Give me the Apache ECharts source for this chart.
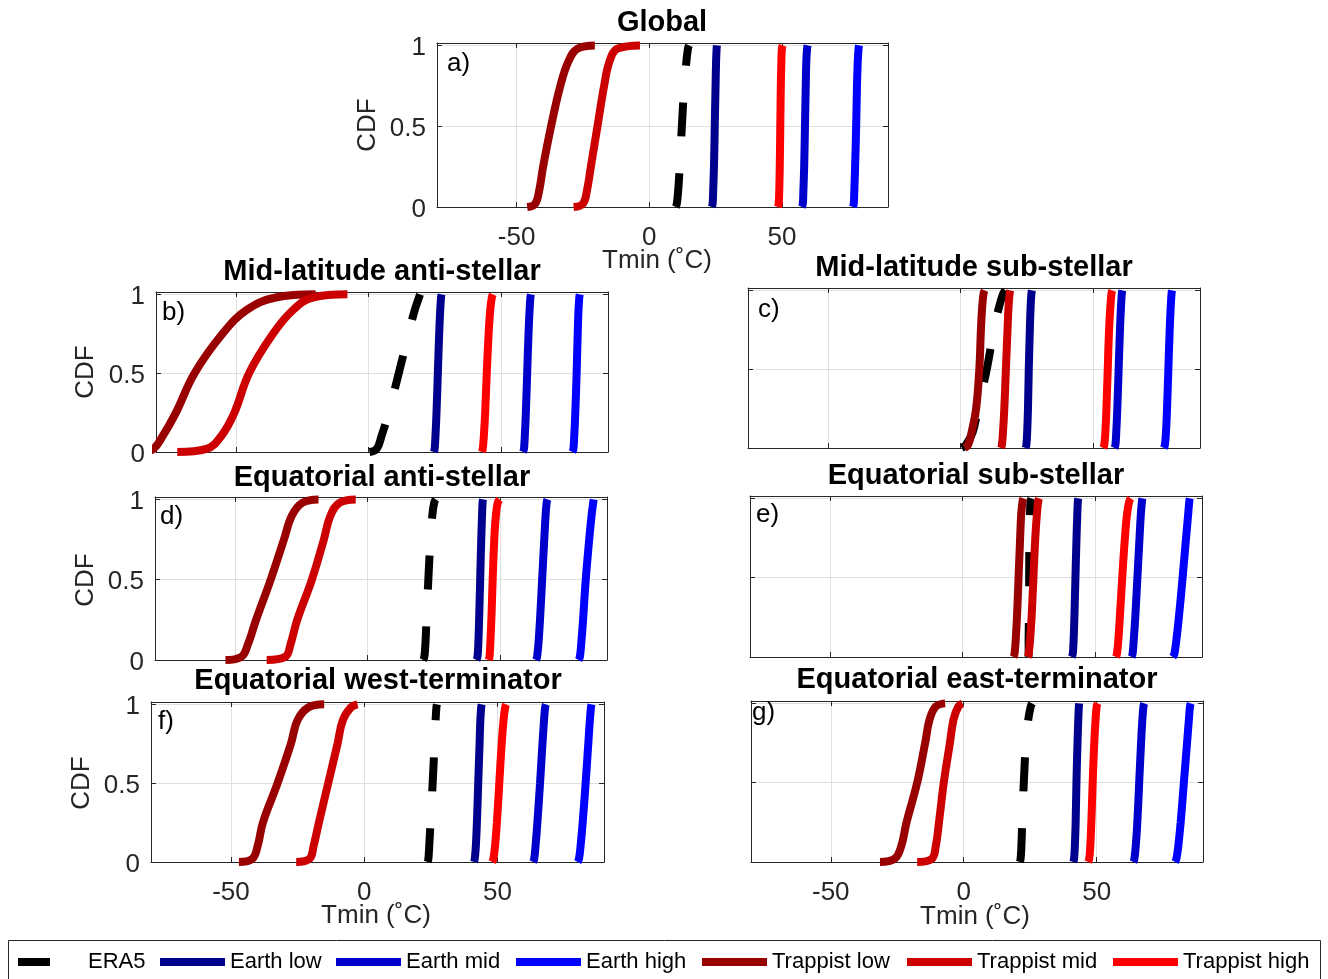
<!DOCTYPE html>
<html>
<head>
<meta charset="utf-8">
<title>Tmin CDF by region</title>
<script src="https://cdn.jsdelivr.net/npm/echarts@6.0.0/dist/echarts.min.js"></script>
<style>
  html, body { margin: 0; padding: 0; background: #ffffff; }
  #chart { width: 1328px; height: 979px; }
</style>
</head>
<body>
<div id="chart"></div>
<script>
// ---------------------------------------------------------------------------
// Data: Tmin (°C) at fixed CDF levels, one row per series, one array per region
// ---------------------------------------------------------------------------
const seriesNames = ['ERA5', 'Earth low', 'Earth mid', 'Earth high', 'Trappist low', 'Trappist mid', 'Trappist high'];
const cdfLevels = [0, 0.02, 0.1, 0.25, 0.5, 0.75, 0.9, 0.98, 1];
const xTickValues = [-50, 0, 50];
const yTickValues = [0, 0.5, 1];
const panelTitles = ['Global', 'Mid-latitude anti-stellar', 'Mid-latitude sub-stellar', 'Equatorial anti-stellar',
  'Equatorial sub-stellar', 'Equatorial west-terminator', 'Equatorial east-terminator'];
const panelLetters = ['a)', 'b)', 'c)', 'd)', 'e)', 'f)', 'g)'];
const xAxisTitle = 'Tmin (˚C)';
const yAxisTitle = 'CDF';

const globalTmin = [
  [10, 10.4, 10.9, 11.5, 12.3, 13.2, 14, 14.6, 15],
  [23.6, 23.9, 24.1, 24.4, 24.7, 25, 25.2, 25.4, 25.5],
  [57.5, 57.9, 58.1, 58.4, 58.7, 59, 59.2, 59.5, 59.7],
  [76.8, 77.1, 77.3, 77.6, 78, 78.3, 78.6, 78.9, 79.1],
  [-46, -43, -41.5, -40, -37, -33.5, -30.5, -27, -20.5],
  [-28.5, -25, -23.5, -22, -19.5, -17, -15, -12, -3.5],
  [48.5, 48.8, 49, 49.2, 49.4, 49.6, 49.8, 50, 50.3]
];
const midLatAntiTmin = [
  [0.3, 3, 4.8, 7.5, 11.3, 15, 17.3, 18.9, 19.3],
  [24.5, 24.8, 25.1, 25.5, 26, 26.5, 26.9, 27.2, 27.4],
  [58, 58.4, 58.7, 59.1, 59.6, 60.1, 60.5, 60.8, 61],
  [76.6, 77, 77.3, 77.7, 78.2, 78.6, 78.9, 79.2, 79.4],
  [-85, -81, -77.5, -72.5, -65.5, -55, -46, -35, -20],
  [-72, -61, -55.5, -50.5, -45, -36, -28.5, -21, -8],
  [42.6, 42.9, 43.3, 43.8, 44.4, 45.1, 45.7, 46.3, 46.7]
];
const midLatSubTmin = [
  [0.4, 2, 4.5, 6.5, 9.8, 12.5, 14.5, 16, 16.8],
  [24.4, 24.7, 25, 25.3, 25.6, 26, 26.3, 26.6, 26.8],
  [57.8, 58.2, 58.5, 58.9, 59.4, 59.9, 60.3, 60.6, 60.8],
  [76.4, 76.8, 77.2, 77.6, 78.1, 78.6, 79, 79.3, 79.5],
  [1.5, 2.8, 4.1, 5.8, 7, 7.6, 8.1, 8.6, 9],
  [15.2, 15.5, 15.9, 16.4, 17, 17.6, 18, 18.4, 18.6],
  [53.6, 54, 54.4, 54.8, 55.3, 55.8, 56.3, 56.7, 57]
];
const eqAntiTmin = [
  [20.8, 21.3, 21.7, 22.1, 22.8, 23.6, 24.3, 25, 25.6],
  [40.9, 41.3, 41.6, 41.9, 42.3, 42.7, 43, 43.2, 43.4],
  [63.3, 63.7, 64.2, 64.8, 65.6, 66.4, 66.9, 67.3, 67.6],
  [79.3, 79.8, 80.3, 81, 82, 83.3, 84.2, 84.8, 85],
  [-53.5, -47.5, -45, -42, -36.5, -31.5, -28.5, -24.5, -18.5],
  [-38, -31, -29, -26.5, -21, -16.5, -14, -10.5, -4.5],
  [45.5, 45.8, 46.1, 46.5, 47, 47.6, 48.2, 48.9, 49.6]
];
const eqSubTmin = [
  [24.7, 24.8, 24.8, 24.9, 25, 25.1, 25.3, 25.5, 25.8],
  [41, 41.4, 41.7, 42, 42.4, 42.8, 43.1, 43.3, 43.5],
  [63.5, 63.9, 64.3, 64.9, 65.7, 66.5, 67, 67.4, 67.6],
  [79, 79.6, 80.3, 81.3, 82.7, 84, 84.8, 85.2, 85.4],
  [19.1, 19.5, 19.9, 20.4, 21, 21.6, 22, 22.5, 22.8],
  [24.4, 24.8, 25.3, 25.9, 26.6, 27.3, 27.9, 28.4, 28.7],
  [57.6, 58, 58.5, 59.1, 60, 61, 61.8, 62.6, 63.2]
];
const eqWestTmin = [
  [23.8, 24.1, 24.4, 24.9, 25.7, 26.4, 26.8, 27.1, 27.3],
  [41.2, 41.5, 41.9, 42.3, 42.8, 43.3, 43.6, 43.9, 44.1],
  [63.4, 63.8, 64.3, 65, 66, 66.9, 67.5, 67.9, 68.2],
  [80.1, 80.6, 81.2, 82, 83.1, 84.1, 84.7, 85.1, 85.3],
  [-47, -42, -40, -38, -32.5, -27.5, -25, -21, -15],
  [-25.5, -20.5, -19, -17, -13.5, -10, -8, -5, -2.5],
  [48, 48.5, 49.1, 49.8, 50.7, 51.6, 52.3, 52.9, 53.3]
];
const eqEastTmin = [
  [21.1, 21.4, 21.7, 22, 22.6, 23.4, 24.3, 25.2, 25.7],
  [41.2, 41.5, 41.8, 42.1, 42.4, 42.8, 43.1, 43.3, 43.4],
  [63.8, 64.2, 64.7, 65.3, 66, 66.7, 67.2, 67.6, 67.9],
  [79.5, 80, 80.7, 81.6, 82.8, 84, 84.7, 85.1, 85.4],
  [-31.5, -26, -23.5, -21.5, -17.5, -14.5, -12.8, -10.5, -7],
  [-17.5, -12, -10.5, -9.3, -7.5, -5.2, -3.8, -2, -0.5],
  [46.8, 47.2, 47.6, 48, 48.5, 49.1, 49.6, 50, 50.4]
];
const panelData = [globalTmin, midLatAntiTmin, midLatSubTmin, eqAntiTmin, eqSubTmin, eqWestTmin, eqEastTmin];

// ---------------------------------------------------------------------------
// Styling and layout
// ---------------------------------------------------------------------------
const lineColors = ['#000000', '#00008f', '#0000cc', '#0000ff', '#990000', '#cc0000', '#ff0000'];
const X_MIN = -80, X_MAX = 90, Y_MIN = 0, Y_MAX = 1.015;
const FONT = "'Liberation Sans', Arial, Helvetica, sans-serif";
const AXIS_COLOR = '#262626';

// plot boxes (px), tick-label visibility, title centre and panel-letter anchor
const panels = [
  { left: 437, top: 43,  width: 451, height: 164, xLab: true,  yLab: true,  title: [662, 23],  letter: [447, 64] },
  { left: 156, top: 292, width: 452, height: 160, xLab: false, yLab: true,  title: [382, 272], letter: [162, 313] },
  { left: 748, top: 288, width: 452, height: 160, xLab: false, yLab: false, title: [974, 268], letter: [758, 310] },
  { left: 155, top: 497, width: 452, height: 163, xLab: false, yLab: true,  title: [382, 478], letter: [160, 517] },
  { left: 750, top: 496, width: 452, height: 161, xLab: false, yLab: false, title: [976, 476], letter: [756, 515] },
  { left: 151, top: 702, width: 453, height: 160, xLab: true,  yLab: true,  title: [378, 681], letter: [158, 722] },
  { left: 751, top: 701, width: 452, height: 161, xLab: true,  yLab: false, title: [977, 680], letter: [752, 713] }
];
const cdfLabelPos = [[368, 125], [86, 372], null, [86, 580], null, [82, 783], null];
const tminLabelPos = [[657, 261], null, null, null, null, [376, 916], [975, 917]];
const legendLefts = [18, 160, 336, 516, 702, 907, 1113];

// ---------------------------------------------------------------------------
const grids = [], xAxes = [], yAxes = [], series = [], graphics = [];

panels.forEach((p, i) => {
  grids.push({ left: p.left, top: p.top, width: p.width, height: p.height, containLabel: false });

  const tickStyle = { show: true, inside: true, length: 5, lineStyle: { color: AXIS_COLOR, width: 1 } };
  const lineStyle = { show: true, onZero: false, lineStyle: { color: AXIS_COLOR, width: 1 } };
  const gridLine = { show: true, lineStyle: { color: '#e0e0e0', width: 1 } };

  xAxes.push({
    gridIndex: i, type: 'value', position: 'bottom', min: X_MIN, max: X_MAX,
    axisLine: lineStyle,
    axisTick: Object.assign({ customValues: xTickValues }, tickStyle),
    axisLabel: { show: p.xLab, customValues: xTickValues, margin: 18, color: AXIS_COLOR, fontSize: 26, fontFamily: FONT },
    splitLine: gridLine
  });
  xAxes.push({
    gridIndex: i, type: 'value', position: 'top', min: X_MIN, max: X_MAX,
    axisLine: lineStyle,
    axisTick: Object.assign({ customValues: xTickValues }, tickStyle),
    axisLabel: { show: false }, splitLine: { show: false }
  });
  yAxes.push({
    gridIndex: i, type: 'value', position: 'left', min: Y_MIN, max: Y_MAX,
    axisLine: lineStyle,
    axisTick: Object.assign({ customValues: yTickValues }, tickStyle),
    axisLabel: {
      show: p.yLab, customValues: yTickValues, margin: 11,
      formatter: (v) => '{t|' + v + '}',
      rich: { t: { padding: [5, 0, 0, 0], color: AXIS_COLOR, fontSize: 26, fontFamily: FONT } },
      color: AXIS_COLOR, fontSize: 26, fontFamily: FONT
    },
    splitLine: gridLine
  });
  yAxes.push({
    gridIndex: i, type: 'value', position: 'right', min: Y_MIN, max: Y_MAX,
    axisLine: lineStyle,
    axisTick: Object.assign({ customValues: yTickValues }, tickStyle),
    axisLabel: { show: false }, splitLine: { show: false }
  });

  panelData[i].forEach((xs, s) => {
    series.push({
      type: 'line',
      name: seriesNames[s],
      xAxisIndex: 2 * i,
      yAxisIndex: 2 * i,
      data: cdfLevels.map((lvl, k) => [xs[k], lvl]),
      showSymbol: false,
      symbol: 'none',
      smooth: 0.4,
      clip: true,
      silent: true,
      z: 2 + s,
      itemStyle: { color: lineColors[s] },
      lineStyle: { color: lineColors[s], width: 8, type: s === 0 ? [34, 37] : 'solid', cap: 'butt' }
    });
  });

  graphics.push({
    type: 'text', x: p.title[0], y: p.title[1], silent: true,
    style: { text: panelTitles[i], font: 'bold 29px ' + FONT, fill: '#000', align: 'center', verticalAlign: 'middle' }
  });
  graphics.push({
    type: 'text', x: p.letter[0], y: p.letter[1], silent: true, z: 10,
    style: { text: panelLetters[i], font: '26px ' + FONT, fill: '#000', align: 'left', verticalAlign: 'middle' }
  });
  if (cdfLabelPos[i]) {
    graphics.push({
      type: 'text', x: cdfLabelPos[i][0], y: cdfLabelPos[i][1], rotation: Math.PI / 2, silent: true,
      style: { text: yAxisTitle, font: '26px ' + FONT, fill: AXIS_COLOR, align: 'center', verticalAlign: 'middle' }
    });
  }
  if (tminLabelPos[i]) {
    graphics.push({
      type: 'text', x: tminLabelPos[i][0], y: tminLabelPos[i][1], silent: true,
      style: { text: xAxisTitle, font: '26px ' + FONT, fill: AXIS_COLOR, align: 'center', verticalAlign: 'middle' }
    });
  }
});

// legend frame
graphics.push({
  type: 'rect', silent: true, z: 0,
  shape: { x: 8.5, y: 940.5, width: 1312, height: 60 },
  style: { fill: '#ffffff', stroke: '#262626', lineWidth: 1 }
});

const legends = seriesNames.map((name, s) => ({
  data: [name],
  left: legendLefts[s],
  top: 951,
  orient: 'horizontal',
  icon: 'rect',
  itemWidth: s === 0 ? 32 : 65,
  itemHeight: 8,
  itemGap: 0,
  padding: 0,
  selectedMode: false,
  itemStyle: { borderWidth: 0 },
  textStyle: { fontFamily: FONT, fontSize: 22, color: '#000', padding: s === 0 ? [0, 0, 0, 33] : 0 }
}));

const chart = echarts.init(document.getElementById('chart'), null, { renderer: 'canvas' });
chart.setOption({
  backgroundColor: '#ffffff',
  animation: false,
  grid: grids,
  xAxis: xAxes,
  yAxis: yAxes,
  legend: legends,
  series: series,
  graphic: graphics
});
</script>
</body>
</html>
